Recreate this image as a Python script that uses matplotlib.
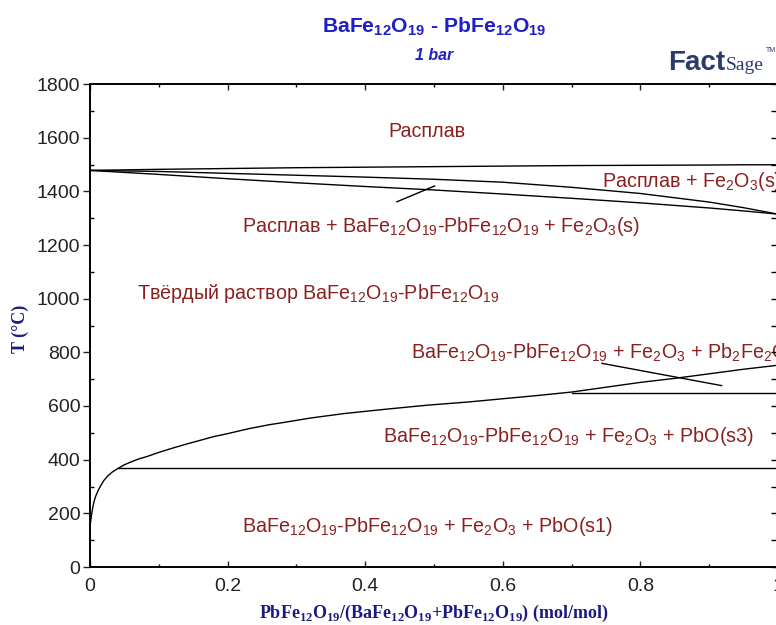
import matplotlib
matplotlib.use('Agg')
import matplotlib.pyplot as plt
from matplotlib.ticker import MultipleLocator, FixedLocator

plt.rcParams['font.family'] = ['Liberation Sans', 'DejaVu Sans']
plt.rcParams['mathtext.fontset'] = 'custom'
plt.rcParams['mathtext.rm'] = 'Liberation Sans'
plt.rcParams['mathtext.it'] = 'Liberation Sans:italic'
plt.rcParams['mathtext.bf'] = 'Liberation Serif:bold'
plt.rcParams['mathtext.sf'] = 'Liberation Sans:bold'

# liquidus and the two lines below it (mole fraction PbFe12O19, T in C)
x_top = [0, 0.1, 0.2, 0.3, 0.4, 0.5, 0.6, 0.7, 0.8, 0.9, 0.95, 1.0]
T_liquidus = [1478, 1482, 1485, 1488, 1490, 1492, 1494, 1496, 1497, 1498, 1499, 1499]
T_fe2o3 = [1478, 1474, 1467, 1460, 1453, 1445, 1434, 1415, 1392, 1360, 1339, 1315]
T_solidus = [1478, 1463, 1447, 1432, 1418, 1405, 1390, 1374, 1357, 1338, 1327, 1315]

# lower boundary curve
x_low = [0.0, 0.002, 0.004, 0.006, 0.008, 0.012, 0.016, 0.02, 0.026, 0.033,
         0.041, 0.05, 0.06, 0.07, 0.082, 0.1, 0.12, 0.14, 0.16, 0.18, 0.2,
         0.23, 0.26, 0.28, 0.32, 0.37, 0.43, 0.49, 0.55, 0.6, 0.65, 0.7,
         0.75, 0.8, 0.85, 0.9, 0.95, 1.0]
T_low = [150, 190, 222, 245, 262, 286, 305, 322, 340, 355,
         368, 381, 392, 402, 411, 427, 443, 458, 472, 486, 497,
         515, 530, 538, 555, 572, 588, 603, 615, 627, 639, 652,
         670, 688, 703, 720, 737, 752]

# invariant lines
T_pbo = 368
x_pbo = [0.041, 1.0]
T_pb2 = 650
x_pb2 = [0.70, 1.0]

# pointer lines
ptr1_x = [0.446, 0.501]
ptr1_T = [1361, 1420]
ptr2_x = [0.744, 0.918]
ptr2_T = [759, 676]

red = '#8b2020'
labels = [
    (0.433, 1604, 'Расплав'),
    (0.744, 1417, 'Расплав + Fe$_2$O$_3$(s)'),
    (0.221, 1248, 'Расплав + BaFe$_{12}$O$_{19}$-PbFe$_{12}$O$_{19}$ + Fe$_2$O$_3$(s)'),
    (0.068, 998, 'Твёрдый раствор BaFe$_{12}$O$_{19}$-PbFe$_{12}$O$_{19}$'),
    (0.467, 778, 'BaFe$_{12}$O$_{19}$-PbFe$_{12}$O$_{19}$ + Fe$_2$O$_3$ + Pb$_2$Fe$_2$O$_5$'),
    (0.426, 467, 'BaFe$_{12}$O$_{19}$-PbFe$_{12}$O$_{19}$ + Fe$_2$O$_3$ + PbO(s3)'),
    (0.221, 132, 'BaFe$_{12}$O$_{19}$-PbFe$_{12}$O$_{19}$ + Fe$_2$O$_3$ + PbO(s1)'),
]

fig = plt.figure(figsize=(7.76, 6.25), dpi=100)
ax = fig.add_axes([90/776, 58/625, 688/776, 483/625])

lw = 1.0
ax.plot(x_top, T_liquidus, color='black', lw=lw)
ax.plot(x_top, T_fe2o3, color='black', lw=lw)
ax.plot(x_top, T_solidus, color='black', lw=lw)
ax.plot(x_low, T_low, color='black', lw=lw)
ax.plot(x_pbo, [T_pbo, T_pbo], color='black', lw=lw)
ax.plot(x_pb2, [T_pb2, T_pb2], color='black', lw=lw)
ax.plot(ptr1_x, ptr1_T, color='black', lw=lw)
ax.plot(ptr2_x, ptr2_T, color='black', lw=lw)

for x, T, s in labels:
    ax.text(x, T, s, color=red, fontsize=14.2, ha='left', va='baseline', clip_on=False)

ax.set_xlim(0, 1)
ax.set_ylim(0, 1800)
ax.xaxis.set_major_locator(FixedLocator([0, 0.2, 0.4, 0.6, 0.8, 1.0]))
ax.set_xticklabels(['0', '0.2', '0.4', '0.6', '0.8', '1'])
ax.xaxis.set_minor_locator(MultipleLocator(0.1))
ax.yaxis.set_major_locator(MultipleLocator(200))
ax.yaxis.set_minor_locator(MultipleLocator(100))

for sp in ax.spines.values():
    sp.set_linewidth(1.2)

ax.tick_params(axis='x', which='major', direction='in', length=4, width=1, top=True,
               labelsize=14, pad=8, colors='#222222')
ax.tick_params(axis='x', which='minor', direction='in', length=2.5, width=1, top=True)
ax.tick_params(axis='y', which='major', direction='out', length=5, width=1, right=False,
               labelsize=14, pad=2, colors='#222222')
ax.tick_params(axis='y', which='minor', direction='in', length=3, width=1, right=False)

ax_r = ax.twinx()
ax_r.set_ylim(0, 1800)
ax_r.yaxis.set_major_locator(MultipleLocator(100))
ax_r.tick_params(axis='y', direction='in', length=5, width=1, labelright=False)
for sp in ax_r.spines.values():
    sp.set_linewidth(1.2)

navy = '#1a1a80'
fig.text(20/776, 1 - 329/625, 'T (°C)', rotation=90, ha='center', va='center',
         family='Liberation Serif', weight='bold', fontsize=13, color=navy)
fig.text(434/776, 1 - 613/625,
         r'PbFe$_{\mathbf{12}}$O$_{\mathbf{19}}$/(BaFe$_{\mathbf{12}}$O$_{\mathbf{19}}$'
         r'+PbFe$_{\mathbf{12}}$O$_{\mathbf{19}}$) (mol/mol)',
         ha='center', va='center', family='Liberation Serif', weight='bold',
         fontsize=13, color=navy)

blue = '#1f1fc8'
fig.text(434/776, 1 - 33/625,
         r'BaFe$_{\mathsf{12}}$O$_{\mathsf{19}}$ - PbFe$_{\mathsf{12}}$O$_{\mathsf{19}}$',
         ha='center', va='baseline', weight='bold', fontsize=15.2, color=blue)
fig.text(434/776, 1 - 60/625, '1 bar', ha='center', va='baseline',
         style='italic', weight='bold', fontsize=11.5, color=blue)

logo = '#2b3a6b'
fig.text(668/776, 1 - 70/625, 'Fact', ha='left', va='baseline', weight='bold',
         fontsize=20, color=logo)
fig.text(726/776, 1 - 70/625, 'Sage', ha='left', va='baseline',
         family='Liberation Serif', fontsize=14, color=logo)
fig.text(766/776, 1 - 52/625, 'TM', ha='left', va='baseline', fontsize=5, color=logo)

fig.savefig('out.png', dpi=100)
